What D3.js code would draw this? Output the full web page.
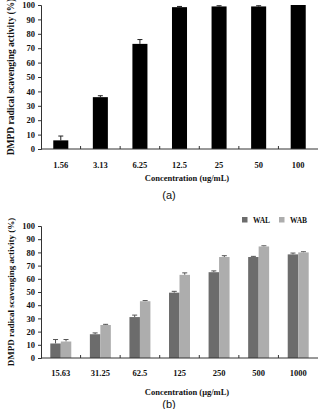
<!DOCTYPE html>
<html>
<head>
<meta charset="utf-8">
<script src="https://cdn.jsdelivr.net/npm/d3@7"></script>
<style>
  body { margin: 0; background: #fff; }
  text { font-family: "Liberation Serif", "Times New Roman", serif; font-weight: bold; fill: #111; }
  .cap { font-family: "Liberation Sans", Arial, sans-serif; font-weight: normal; }
</style>
</head>
<body>
<script>
// panel (a)
var concA = ["1.56", "3.13", "6.25", "12.5", "25", "50", "100"];
var actA = [6, 36, 73, 98.5, 99, 99, 100];
var errA = [3, 1, 3, 0.5, 0.5, 0.5, 0];

// panel (b)
var concB = ["15.63", "31.25", "62.5", "125", "250", "500", "1000"];
var series = ["WAL", "WAB"];
var walVals = [11, 18, 31, 49.5, 65, 76.5, 78.5];
var walErr = [3, 1, 1.5, 1, 1, 0.5, 1];
var wabVals = [12.5, 25, 43, 63, 76.5, 84.5, 80];
var wabErr = [1.5, 0.5, 0.5, 1.5, 1, 0.5, 0.5];
var yTicks = [0, 10, 20, 30, 40, 50, 60, 70, 80, 90, 100];

var colors = {WAL: "#6c6c6c", WAB: "#adadad"};

var svg = d3.select("body").append("svg")
    .attr("width", 319)
    .attr("height", 409);

function drawAxes(g, x, y, labels, labelY, title, titleY, yTitleX, yTitleSize) {
  // y axis
  var ya = g.append("g").attr("transform", "translate(" + x.range()[0] + ",0)")
    .call(d3.axisLeft(y).tickValues(yTicks).tickSize(3).tickPadding(3));
  ya.select(".domain").attr("stroke", "#333");
  ya.selectAll(".tick line").attr("stroke", "#333");
  ya.selectAll(".tick text").style("font-size", "8.5px");

  // x axis line, small ticks between categories
  var y0 = y(0);
  g.append("line")
    .attr("x1", x.range()[0]).attr("x2", x.range()[1])
    .attr("y1", y0).attr("y2", y0)
    .attr("stroke", "#333");
  labels.slice(1).forEach(function(c) {
    var bx = x(c) + x.bandwidth() / 2 - x.step() / 2;
    g.append("line")
      .attr("x1", bx).attr("x2", bx)
      .attr("y1", y0).attr("y2", y0 - 3)
      .attr("stroke", "#333");
  });
  g.selectAll(".xl").data(labels).enter().append("text")
    .attr("class", "xl")
    .attr("x", function(d) { return x(d) + x.bandwidth() / 2; })
    .attr("y", labelY)
    .attr("text-anchor", "middle")
    .style("font-size", "8.5px")
    .text(function(d) { return d; });

  g.append("text")
    .attr("x", 187).attr("y", titleY)
    .attr("text-anchor", "middle")
    .style("font-size", "8.5px")
    .text(title);

  var ym = (y.range()[0] + y.range()[1]) / 2;
  g.append("text")
    .attr("transform", "translate(" + yTitleX + "," + ym + ") rotate(-90)")
    .attr("text-anchor", "middle")
    .style("font-size", yTitleSize)
    .text("DMPD radical scavenging activity (%)");
}

function errBar(g, cx, top, err, y, col) {
  if (err <= 0) return;
  var ty = y(y.invert(top) + err);
  g.append("line").attr("x1", cx).attr("x2", cx).attr("y1", top).attr("y2", ty).attr("stroke", col);
  g.append("line").attr("x1", cx - 2.5).attr("x2", cx + 2.5).attr("y1", ty).attr("y2", ty).attr("stroke", col);
}

// ---- panel (a)
var gA = svg.append("g");
var xA = d3.scaleBand().domain(concA).range([41, 318]).paddingInner(0.62).paddingOuter(0.31);
var yA = d3.scaleLinear().domain([0, 100]).range([149, 5]);

concA.forEach(function(c, i) {
  var top = yA(actA[i]);
  errBar(gA, xA(c) + xA.bandwidth() / 2, top, errA[i], yA, "#222");
  gA.append("rect")
    .attr("x", xA(c)).attr("y", top)
    .attr("width", xA.bandwidth())
    .attr("height", yA(0) - top)
    .attr("fill", "#000");
});
drawAxes(gA, xA, yA, concA, 168, "Concentration (ug/mL)", 181, 14, "9.5px");
gA.append("text").attr("class", "cap")
  .attr("x", 169).attr("y", 199)
  .attr("text-anchor", "middle")
  .style("font-size", "11px")
  .text("(a)");

// ---- panel (b)
var gB = svg.append("g");
var xB = d3.scaleBand().domain(concB).range([41, 318]).paddingInner(0.47).paddingOuter(0.235);
var xSub = d3.scaleBand().domain(series).range([0, xB.bandwidth()]);
var yB = d3.scaleLinear().domain([0, 100]).range([358, 226]);

concB.forEach(function(c, i) {
  var vals = {WAL: walVals[i], WAB: wabVals[i]};
  var errs = {WAL: walErr[i], WAB: wabErr[i]};
  series.forEach(function(s) {
    var top = yB(vals[s]);
    var bx = xB(c) + xSub(s);
    errBar(gB, bx + xSub.bandwidth() / 2, top, errs[s], yB, "#555");
    gB.append("rect")
      .attr("x", bx).attr("y", top)
      .attr("width", xSub.bandwidth())
      .attr("height", yB(0) - top)
      .attr("fill", colors[s]);
  });
});
drawAxes(gB, xB, yB, concB, 376, "Concentration (\u03bcg/mL)", 395, 14, "9px");

// legend
var leg = gB.selectAll(".leg").data(series).enter().append("g")
  .attr("transform", function(d, i) { return "translate(" + (242 + i * 37) + ",217)"; });
leg.append("rect").attr("width", 5.5).attr("height", 5.5)
  .attr("fill", function(d) { return colors[d]; });
leg.append("text").attr("x", 11).attr("y", 5.5)
  .style("font-size", "7.5px")
  .text(function(d) { return d; });

gB.append("text").attr("class", "cap")
  .attr("x", 169).attr("y", 408)
  .attr("text-anchor", "middle")
  .style("font-size", "11px")
  .text("(b)");
</script>
</body>
</html>
